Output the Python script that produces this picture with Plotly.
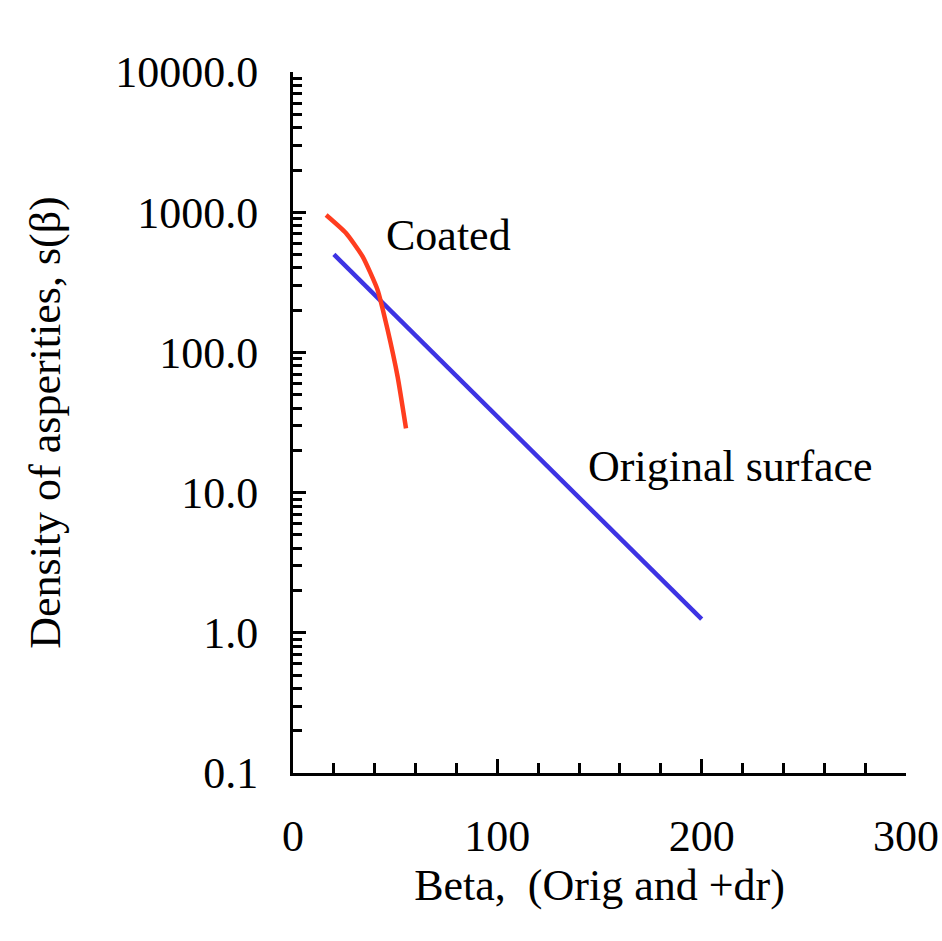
import plotly.graph_objects as go

# Data
orig_beta = [20, 200]
orig_density = [500, 1.25]

coated_beta = [16.2, 25.9, 34.1, 41.4, 46.3, 51.2, 55.3]
coated_density = [955, 711, 482, 279, 145, 67, 28.7]

y_tickvals = [0.1, 1, 10, 100, 1000, 10000]
y_ticktext = ["0.1", "1.0", "10.0", "100.0", "1000.0", "10000.0"]
y_minor = [m * d for d in [0.1, 1, 10, 100, 1000] for m in range(2, 10)]

x_tickvals = [0, 100, 200, 300]

FONT = "Liberation Serif, Times New Roman, serif"

fig = go.Figure()
fig.add_trace(go.Scatter(x=orig_beta, y=orig_density, mode="lines",
                         line=dict(color="#3d33e3", width=4.5), name="Original surface"))
fig.add_trace(go.Scatter(x=coated_beta, y=coated_density, mode="lines",
                         line=dict(color="#ff3d1f", width=4.5, shape="spline", smoothing=0.5),
                         name="Coated"))

fig.add_annotation(x=44.5, y=2.837, text="Coated", showarrow=False, xanchor="left",
                   yanchor="middle", font=dict(family=FONT, size=44, color="black"))
fig.add_annotation(x=143.4, y=1.183, text="Original surface", showarrow=False, xanchor="left",
                   yanchor="middle", font=dict(family=FONT, size=44, color="black"))

fig.update_layout(
    width=942, height=941,
    margin=dict(l=293, r=36, t=72, b=168),
    paper_bgcolor="white", plot_bgcolor="white",
    showlegend=False,
    font=dict(family=FONT, size=44, color="black"),
)
fig.update_xaxes(
    range=[0, 300], tickvals=x_tickvals, ticks="inside", ticklen=14, tickwidth=2.5,
    tickcolor="black", showline=True, linecolor="black", linewidth=3,
    showgrid=False, zeroline=False, ticklabelstandoff=22, automargin=False,
    ticklabeloverflow="allow",
    minor=dict(dtick=20, ticks="inside", ticklen=10, tickwidth=2.5, tickcolor="black", showgrid=False),
    title=dict(text="Beta,&nbsp; (Orig and +dr)", font=dict(family=FONT, size=44), standoff=8),
    tickfont=dict(family=FONT, size=44),
)
fig.update_yaxes(
    type="log", range=[-1, 4], tickvals=y_tickvals, ticktext=y_ticktext,
    ticks="inside", ticklen=13, tickwidth=2.5, tickcolor="black",
    showline=True, linecolor="black", linewidth=3, showgrid=False, zeroline=False,
    ticklabelstandoff=23, automargin=False,
    minor=dict(tickvals=y_minor, ticks="inside", ticklen=9, tickwidth=2.5, tickcolor="black", showgrid=False),
    title=dict(text="Density of asperities, s(β)", font=dict(family=FONT, size=44), standoff=41),
    tickfont=dict(family=FONT, size=44),
)

fig.write_html("out.html", config={"displayModeBar": False},
               post_script="document.body.style.margin='0';")
